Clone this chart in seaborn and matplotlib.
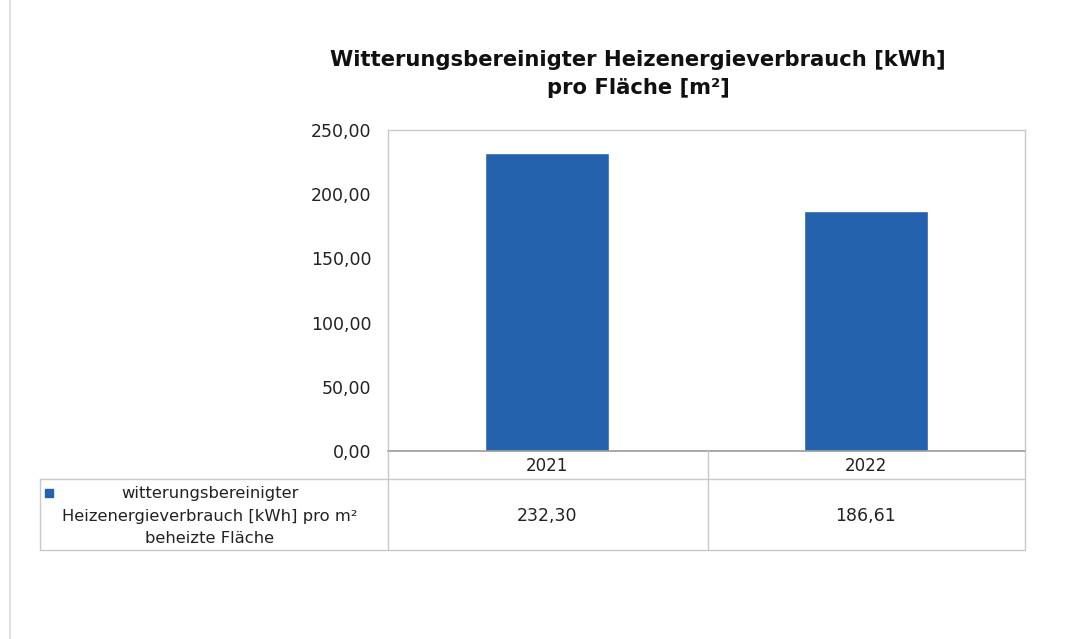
import matplotlib
matplotlib.use("Agg")
import matplotlib.pyplot as plt
import matplotlib.transforms as mtransforms
from matplotlib.lines import Line2D
from matplotlib.ticker import FuncFormatter
import pandas as pd
import seaborn as sns

# data
years = ["2021", "2022"]
values = [232.30, 186.61]
y_ticks = [0, 50, 100, 150, 200, 250]
title = "Witterungsbereinigter Heizenergieverbrauch [kWh]\npro Fläche [m²]"
series_label = "witterungsbereinigter\nHeizenergieverbrauch [kWh] pro m²\nbeheizte Fläche"

BAR_COLOR = "#2462ad"
GRID_COLOR = "#c9c9c9"
W, H = 1082, 639

sns.set_theme(style="white")
plt.rcParams["font.family"] = ["DejaVu Sans"]

df = pd.DataFrame({"year": years, "value": values})

fig = plt.figure(figsize=(W / 100, H / 100), dpi=100)
fig.patch.set_facecolor("white")


def fx(px):
    return px / W


def fy(py):
    return 1 - py / H


# plot area in pixel coords of the reference
left, right, top, bottom = 388, 1025, 130, 451
ax = fig.add_axes([fx(left), fy(bottom), fx(right - left), fy(top) - fy(bottom)])

sns.barplot(data=df, x="year", y="value", color=BAR_COLOR, width=0.39,
            saturation=1, ax=ax)

ax.set_ylim(0, 250)
ax.set_yticks(y_ticks)
ax.yaxis.set_major_formatter(FuncFormatter(lambda v, p: f"{v:.2f}".replace(".", ",")))
ax.set_xlabel("")
ax.set_ylabel("")
ax.tick_params(axis="y", length=0, pad=12, labelsize=12.5, colors="#222222")
ax.tick_params(axis="x", length=0, pad=4, labelsize=12, colors="#222222")
for side in ["top", "right", "left"]:
    ax.spines[side].set_color(GRID_COLOR)
    ax.spines[side].set_linewidth(1.0)
ax.spines["bottom"].set_color("#9a9a9a")
ax.spines["bottom"].set_linewidth(1.2)
ax.grid(False)

# title
fig.text(fx(638), fy(74), title, ha="center", va="center", fontsize=15.2,
         fontweight="bold", color="#111111", linespacing=1.45)

# data table lines
def hline(x0, x1, y, color=GRID_COLOR, lw=1.0):
    fig.add_artist(Line2D([fx(x0), fx(x1)], [fy(y), fy(y)], color=color, lw=lw))


def vline(x, y0, y1, color=GRID_COLOR, lw=1.0):
    fig.add_artist(Line2D([fx(x), fx(x)], [fy(y0), fy(y1)], color=color, lw=lw))


hline(40, right, 479)
hline(40, right, 550)
vline(40, 479, 550)
vline(left, bottom, 550)
vline(708, bottom, 550)
vline(right, bottom, 550)

# faint page edge on the left
vline(10, 0, H, color="#dcdcdc", lw=1.2)

# legend marker and series label
fig.add_artist(Line2D([fx(49)], [fy(493)], marker="s", markersize=6,
                      color=BAR_COLOR, linestyle="none"))
fig.text(fx(210), fy(516), series_label, ha="center", va="center",
         fontsize=11.8, color="#222222", linespacing=1.6)

# values row of the table, placed at the category positions
trans = mtransforms.blended_transform_factory(ax.transData, fig.transFigure)
for i, v in enumerate(values):
    ax.text(i, fy(516), f"{v:.2f}".replace(".", ","), transform=trans,
            ha="center", va="center", fontsize=12.5, color="#222222")

fig.savefig("out.png", dpi=100, facecolor="white")
